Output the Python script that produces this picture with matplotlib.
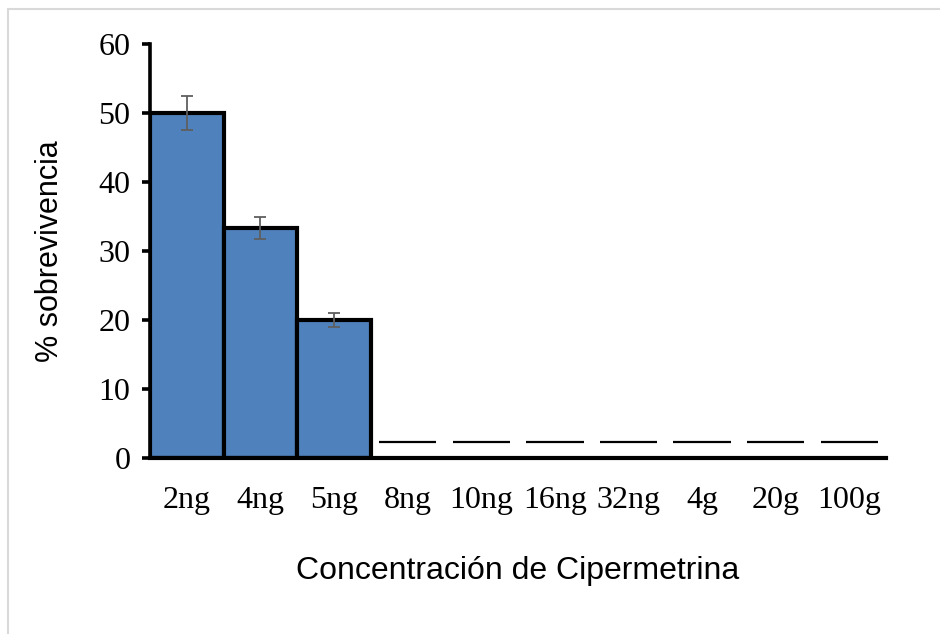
import numpy as np
import matplotlib.pyplot as plt
from matplotlib.patches import Rectangle

# survival per cypermethrin concentration
concentraciones = ['2ng', '4ng', '5ng', '8ng', '10ng', '16ng', '32ng', '4g', '20g', '100g']
sobrevivencia = [50, 33.3, 20, 0, 0, 0, 0, 0, 0, 0]
error = [2.5, 1.6, 1.0, 0, 0, 0, 0, 0, 0, 0]
# short markers drawn over the empty categories
marca_cero = [None, None, None, 2.3, 2.3, 2.3, 2.3, 2.3, 2.3, 2.3]

fig = plt.figure(figsize=(9.4, 6.34), dpi=100)
ax = fig.add_axes([0.1596, 0.2776, 0.783, 0.653])

# light frame around the chart area
fig.patches.append(Rectangle((8 / 940, -0.1), 1.2, 625 / 634 + 0.1,
                             transform=fig.transFigure, fill=False,
                             edgecolor='#d9d9d9', linewidth=1.5))

x = np.arange(len(concentraciones))
con_valor = [i for i, v in enumerate(sobrevivencia) if v > 0]
ax.bar(x[con_valor], [sobrevivencia[i] for i in con_valor], width=1.0,
       color='#4f81bd', edgecolor='black', linewidth=3, zorder=2)
ax.errorbar(x[con_valor], [sobrevivencia[i] for i in con_valor],
            yerr=[error[i] for i in con_valor], fmt='none', ecolor='#5f5f5f',
            elinewidth=1.3, capsize=4.5, capthick=1.3, zorder=3)

for i, v in enumerate(marca_cero):
    if v is not None:
        ax.hlines(v, i - 0.39, i + 0.39, color='black', linewidth=1.6, zorder=2)

ax.set_xlim(-0.5, len(concentraciones) - 0.5)
ax.set_ylim(0, 60)
ax.set_yticks(range(0, 61, 10))
ax.set_xticks(x)
ax.set_xticklabels(concentraciones)

for s in ['top', 'right']:
    ax.spines[s].set_visible(False)
ax.spines['left'].set_linewidth(2.6)
ax.spines['bottom'].set_linewidth(3)
ax.spines['bottom'].set_zorder(4)
ax.tick_params(axis='y', direction='out', length=6, width=2.6, pad=8)
ax.tick_params(axis='x', length=0, pad=20)
for lab in ax.get_xticklabels() + ax.get_yticklabels():
    lab.set_fontfamily('Liberation Serif')
    lab.set_fontsize(23)

ax.set_ylabel('% sobrevivencia', fontsize=22, fontfamily='Liberation Sans', labelpad=24)
ax.set_xlabel('Concentración de Cipermetrina', fontsize=23,
              fontfamily='Liberation Sans', labelpad=30)

fig.savefig('out.png', dpi=100)
